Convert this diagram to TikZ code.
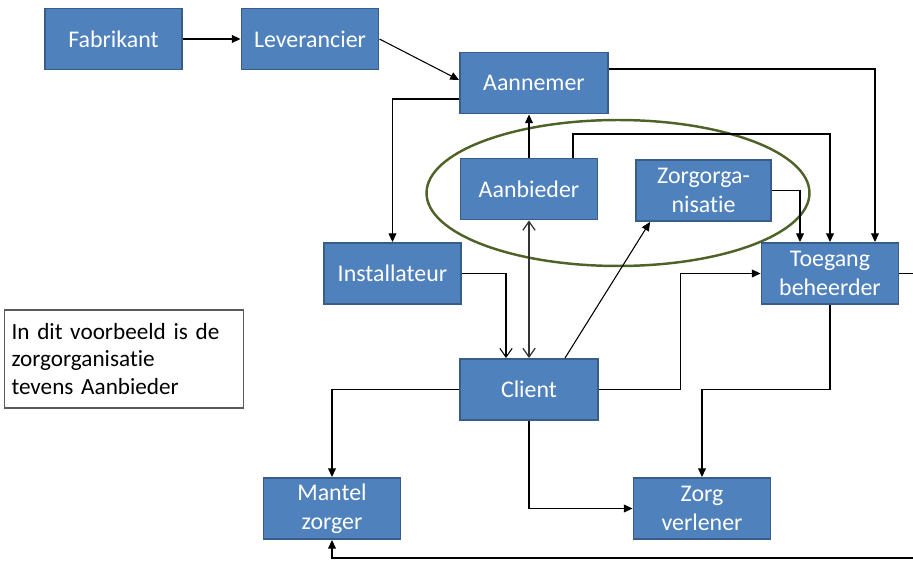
\documentclass[tikz,border=0pt]{standalone}
\usepackage{fontspec}
\setmainfont{Carlito}[Ligatures={NoCommon}]
\usetikzlibrary{arrows.meta,shapes.geometric}
\definecolor{boxfill}{HTML}{4F81BD}
\definecolor{boxedge}{HTML}{385D8A}
\definecolor{groupline}{HTML}{4F6228}
\definecolor{noteedge}{HTML}{595959}
\tikzset{
  actor/.style={draw=boxedge, line width=1.1pt, fill=boxfill, text=white,
    minimum width=2.74cm, minimum height=1.22cm, align=center, inner sep=1pt,
    font=\fontsize{13.6}{16.6}\selectfont},
  link/.style={draw=black, line width=0.6pt, -{Triangle[length=5pt,width=4.5pt]}},
  openlink/.style={draw=black, line width=0.6pt, -{Straight Barb[length=5pt,width=7pt]}},
  bothopen/.style={draw=black!80, line width=0.7pt, {Straight Barb[length=5pt,width=7pt]}-{Straight Barb[length=5pt,width=7pt]}},
  group/.style={draw=groupline, line width=1.4pt, ellipse},
  note/.style={draw=noteedge, line width=0.6pt, fill=white, align=left,
    text width=4.5cm, minimum width=4.72cm, minimum height=1.96cm, inner sep=4pt,
    font=\fontsize{13.2}{15.4}\selectfont}
}
\begin{document}
\begin{tikzpicture}[x=0.02cm, y=-0.02cm]
\useasboundingbox (0,0) rectangle (913,563);
\clip (0,0) rectangle (913,563);

% group of the care organisation acting as provider
\node[group, minimum width=7.66cm, minimum height=2.92cm] (grp) at (618,193) {};

% actors
\node[actor] (fab) at (113.5,39) {Fabrikant};
\node[actor] (lev) at (310,39) {Leverancier};
\node[actor, minimum width=2.96cm] (aan) at (534,83) {Aannemer};
\node[actor] (aanb) at (529,189) {Aanbieder};
\node[actor, minimum width=2.7cm] (zorg) at (703.5,190.5) {Zorgorga-\\nisatie};
\node[actor] (inst) at (392.5,273.5) {Installateur};
\node[actor] (toeg) at (830,273.5) {Toegang\\beheerder};
\node[actor, minimum width=2.76cm] (cli) at (529,389.5) {Client};
\node[actor] (mant) at (332,508.5) {Mantel\\zorger};
\node[actor] (zv) at (702,508.5) {Zorg\\verlener};

% note
\node[note] (txt) at (124,359) {In dit voorbeeld is de\\zorgorganisatie\\tevens Aanbieder};

\coordinate (topbend) at (830,134);
\coordinate (rim) at (940,558);

% connectors
\draw[link] (fab) -- (lev);
\draw[link] (lev.east) -- ([yshift=0.06cm]aan.west);
\draw[link] ([yshift=-0.32cm]aan.west) -| (inst.north);
\draw[link] ([yshift=0.28cm]aan.east) -| ([xshift=0.9cm]toeg.north);
\draw[link] (aanb.north) -- (aanb.north |- aan.south);
\draw[link] ([xshift=0.88cm]aanb.north) |- (topbend) -- (toeg.north);
\draw[link] (zorg.east) -| ([xshift=-0.6cm]toeg.north);
\draw[bothopen] (cli.north) -- (cli.north |- aanb.south);
\draw[openlink] (inst.east) -| ([xshift=-0.46cm]cli.north);
\draw[link] ([xshift=0.72cm]cli.north) -- ([xshift=0.3cm]zorg.south west);
\draw[link] (cli.east) -- ([xshift=1.64cm]cli.east) |- (toeg.west);
\draw[link] (toeg.south) -- (toeg.south |- cli.east) -| (zv.north);
\draw[link] (cli.west) -| (mant.north);
\draw[link] (cli.south) |- (zv.west);
\draw[link] (toeg.east) -| (rim) -| (mant.south);
\end{tikzpicture}
\end{document}
